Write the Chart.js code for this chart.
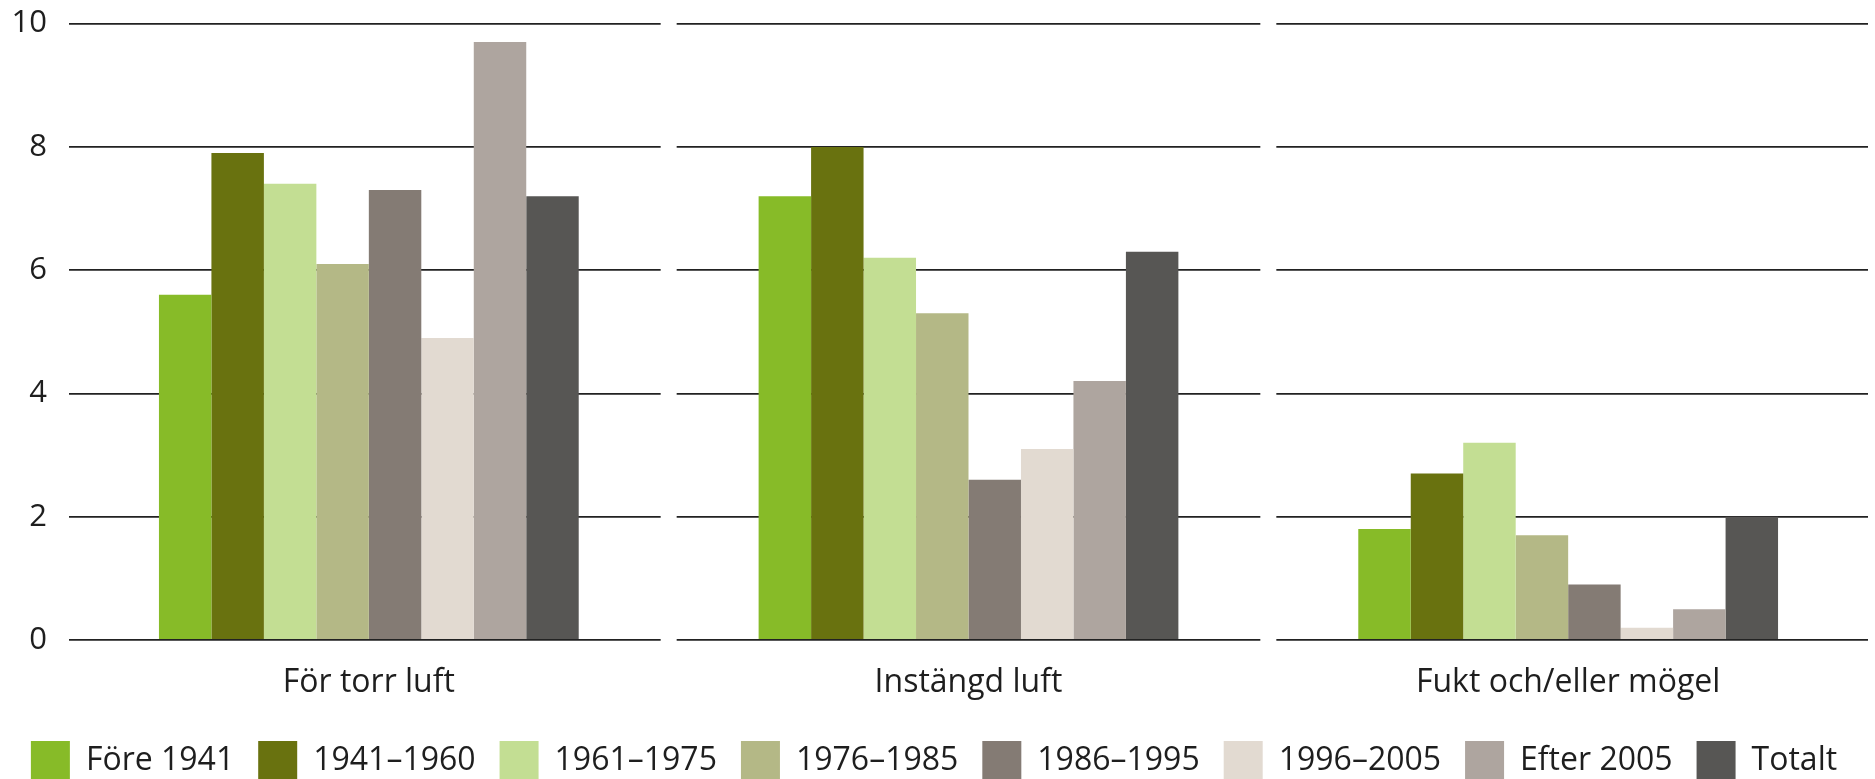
<!DOCTYPE html>
<html>
<head>
<meta charset="utf-8">
<script src="https://cdn.jsdelivr.net/npm/chart.js@4/dist/chart.umd.min.js"></script>
<style>
  html, body { margin: 0; padding: 0; background: #fff; overflow: hidden; }
  #wrap { position: relative; width: 1875px; height: 790px; }
</style>
</head>
<body>
<div id="wrap"><canvas id="bar-chart"></canvas></div>
<script>
const categories = ["För torr luft", "Instängd luft", "Fukt och/eller mögel"];
const seriesLabels = ["Före 1941", "1941–1960", "1961–1975", "1976–1985", "1986–1995", "1996–2005", "Efter 2005", "Totalt"];
const fore1941 = [5.6, 7.2, 1.8];
const y1941_1960 = [7.9, 8.0, 2.7];
const y1961_1975 = [7.4, 6.2, 3.2];
const y1976_1985 = [6.1, 5.3, 1.7];
const y1986_1995 = [7.3, 2.6, 0.9];
const y1996_2005 = [4.9, 3.1, 0.2];
const efter2005 = [9.7, 4.2, 0.5];
const totalt = [7.2, 6.3, 2.0];
const yTicks = [0, 2, 4, 6, 8, 10];

const seriesValues = [fore1941, y1941_1960, y1961_1975, y1976_1985, y1986_1995, y1996_2005, efter2005, totalt];
const colors = ["#87bb28", "#69720f", "#c3de93", "#b4b886", "#847b74", "#e2dad1", "#aea59f", "#575654"];

// breaks the horizontal grid lines between the three groups
const panelGaps = {
  id: "panelGaps",
  afterDatasetsDraw(chart) {
    const x = chart.scales.x;
    const area = chart.chartArea;
    const ctx = chart.ctx;
    ctx.save();
    ctx.fillStyle = "#ffffff";
    for (let i = 0; i < x.ticks.length - 1; i++) {
      const mid = (x.getPixelForTick(i) + x.getPixelForTick(i + 1)) / 2;
      ctx.fillRect(mid - 8, area.top - 4, 16, area.bottom - area.top + 8);
    }
    ctx.restore();
  },
};

const data = {
  labels: categories,
  datasets: seriesLabels.map((label, i) => ({
    label: label,
    data: seriesValues[i],
    backgroundColor: colors[i],
    borderWidth: 0,
    categoryPercentage: 0.7,
    barPercentage: 1.0,
  })),
};

const config = {
  type: "bar",
  data: data,
  plugins: [panelGaps],
  options: {
    responsive: true,
    maintainAspectRatio: false,
    animation: false,
    layout: {
      padding: { left: 0, right: 7, top: 1, bottom: 0 },
    },
    scales: {
      x: {
        offset: true,
        border: { display: false },
        afterFit: (axis) => {
          axis.height = 77;
        },
        grid: { display: false, drawTicks: false },
        ticks: {
          color: "#1e1e1e",
          padding: 24,
          font: { family: "'Open Sans'", size: 32 },
        },
      },
      y: {
        min: 0,
        max: 10,
        border: { display: false },
        afterBuildTicks: (axis) => {
          axis.ticks = yTicks.map((v) => ({ value: v }));
        },
        afterFit: (axis) => {
          axis.width = 69;
        },
        grid: {
          color: "#222222",
          lineWidth: 1.8,
          drawTicks: true,
          tickLength: 17,
          tickColor: "transparent",
        },
        ticks: {
          color: "#1e1e1e",
          padding: 5,
          font: { family: "'Open Sans'", size: 31 },
        },
      },
    },
    plugins: {
      tooltip: { enabled: false },
      legend: {
        display: true,
        position: "bottom",
        labels: {
          boxWidth: 39,
          boxHeight: 39,
          padding: 24,
          color: "#1e1e1e",
          font: { family: "'Open Sans'", size: 32 },
        },
      },
    },
  },
};

const barGraph = document.getElementById("bar-chart").getContext("2d");
new Chart(barGraph, config);
</script>
</body>
</html>
